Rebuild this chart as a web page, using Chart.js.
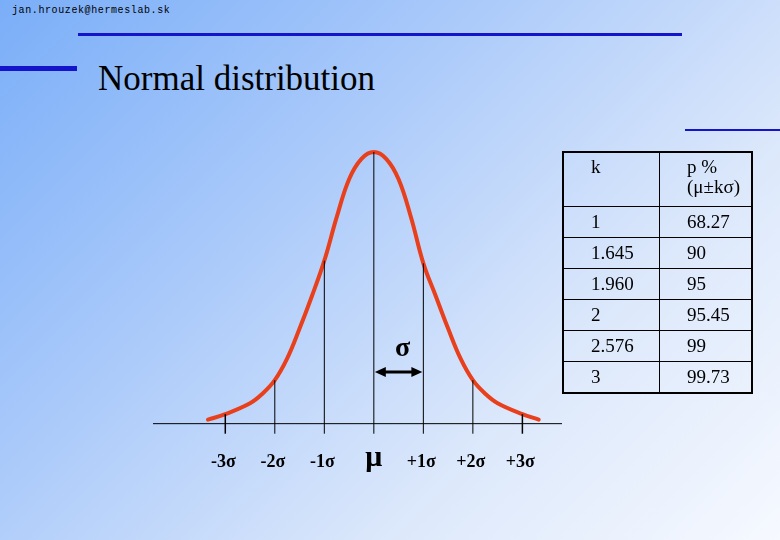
<!DOCTYPE html>
<html><head><meta charset="utf-8">
<script src="https://cdn.jsdelivr.net/npm/chart.js@4"></script>
<style>
html,body{margin:0;padding:0;}
body{width:780px;height:540px;position:relative;overflow:hidden;
 background:linear-gradient(135deg,#7aaef8 0%,#a9c9fa 35%,#dce8fb 70%,#f6f9ff 100%);font-family:"Liberation Serif",serif;}
.bar{position:absolute;background:#1414cc;}
#email{position:absolute;left:12px;top:5px;font:10px "Liberation Mono",monospace;letter-spacing:0.6px;color:#000;}
#title{position:absolute;left:98px;top:59px;font-size:35px;color:#000;}
#wrap{position:absolute;left:0;top:0;width:780px;height:540px;}
table{position:absolute;left:562px;top:151px;width:191px;border-collapse:collapse;font-size:19px;color:#000;}
td{border:1.5px solid #000;padding:0 0 0 27px;height:30px;line-height:20px;}
td:first-child{width:68px;}
tr.h td{height:49px;vertical-align:top;padding-top:4px;}
table{border:2.5px solid #000;}
</style></head><body>
<div id="email">jan.hrouzek@hermeslab.sk</div>
<div class="bar" style="left:78px;top:33px;width:604px;height:3px"></div>
<div class="bar" style="left:0;top:66px;width:77px;height:5px"></div>
<div class="bar" style="left:685px;top:129px;width:95px;height:2px"></div>
<div id="title">Normal distribution</div>
<div id="wrap"><canvas id="c" width="780" height="540"></canvas></div>
<table id="tbl"></table>
<script>
const curveX=[-3.35,-3,-2.5,-2.25,-2,-1.75,-1.5,-1.25,-1,-0.75,-0.5,-0.25,0,0.25,0.5,0.75,1,1.25,1.5,1.75,2,2.25,2.5,3,3.33];
const curveY=[0.015,0.035,0.075,0.11,0.16,0.24,0.35,0.47,0.60,0.76,0.90,0.975,1.0,0.975,0.90,0.76,0.59,0.47,0.35,0.24,0.16,0.11,0.075,0.035,0.015];
const markX=[-3,-2,-1,0,1,2,3];
const markTop=[0.035,0.16,0.60,1.0,0.59,0.16,0.035];
const tickLabels=['-3σ','-2σ','-1σ','μ','+1σ','+2σ','+3σ'];
const tableK=['1','1.645','1.960','2','2.576','3'];
const tableP=['68.27','90','95','95.45','99','99.73'];

const tbl=document.getElementById('tbl');
tbl.innerHTML='<tr class="h"><td>k</td><td>p %<br>(μ±kσ)</td></tr>'+
 tableK.map((k,i)=>'<tr><td>'+k+'</td><td>'+tableP[i]+'</td></tr>').join('');

const datasets=[];
datasets.push({data:[{x:-4.46,y:0},{x:3.8,y:0}],borderColor:'#000',borderWidth:1,pointRadius:0});
markX.forEach((m,i)=>datasets.push({data:[{x:m,y:-0.037},{x:m,y:markTop[i]}],borderColor:'#000',borderWidth:(m===-3||m===3)?1.5:1,pointRadius:0}));
datasets.push({data:curveX.map((x,i)=>({x,y:curveY[i]})),borderColor:'#e8401c',borderWidth:4,pointRadius:0,tension:0.4,clip:false,borderCapStyle:'round'});

const deco={id:'deco',afterDatasetsDraw(ch){
 const c=ch.ctx,xs=ch.scales.x,ys=ch.scales.y;
 c.save();c.fillStyle='#000';c.textAlign='center';c.textBaseline='alphabetic';
 markX.forEach((m,i)=>{
  const px=xs.getPixelForValue(m);
  if(tickLabels[i]==='μ'){c.font='bold 30px "Liberation Serif"';c.fillText('μ',px,466);}
  else{c.font='bold 18px "Liberation Serif"';c.fillText(tickLabels[i],px-2,467);}
 });
 const x0=xs.getPixelForValue(0)+1,x1=xs.getPixelForValue(1)-1,y=ys.getPixelForValue(0.19);
 c.strokeStyle='#000';c.lineWidth=3;c.beginPath();c.moveTo(x0+6,y);c.lineTo(x1-6,y);c.stroke();
 c.beginPath();c.moveTo(x0,y);c.lineTo(x0+11,y-5);c.lineTo(x0+11,y+5);c.closePath();c.fill();
 c.beginPath();c.moveTo(x1,y);c.lineTo(x1-11,y-5);c.lineTo(x1-11,y+5);c.closePath();c.fill();
 c.font='bold 28px "Liberation Serif"';c.fillText('σ',(x0+x1)/2+4,ys.getPixelForValue(0.25));
 c.restore();
}};

new Chart(document.getElementById('c'),{type:'line',data:{datasets},
 options:{responsive:false,animation:false,events:[],
  layout:{padding:{left:153,right:218,top:152,bottom:540-478}},
  plugins:{legend:{display:false},tooltip:{enabled:false}},
  scales:{x:{type:'linear',min:-4.46,max:3.8,display:false},
          y:{min:-0.2,max:1,display:false}}},
 plugins:[deco]});
</script></body></html>
